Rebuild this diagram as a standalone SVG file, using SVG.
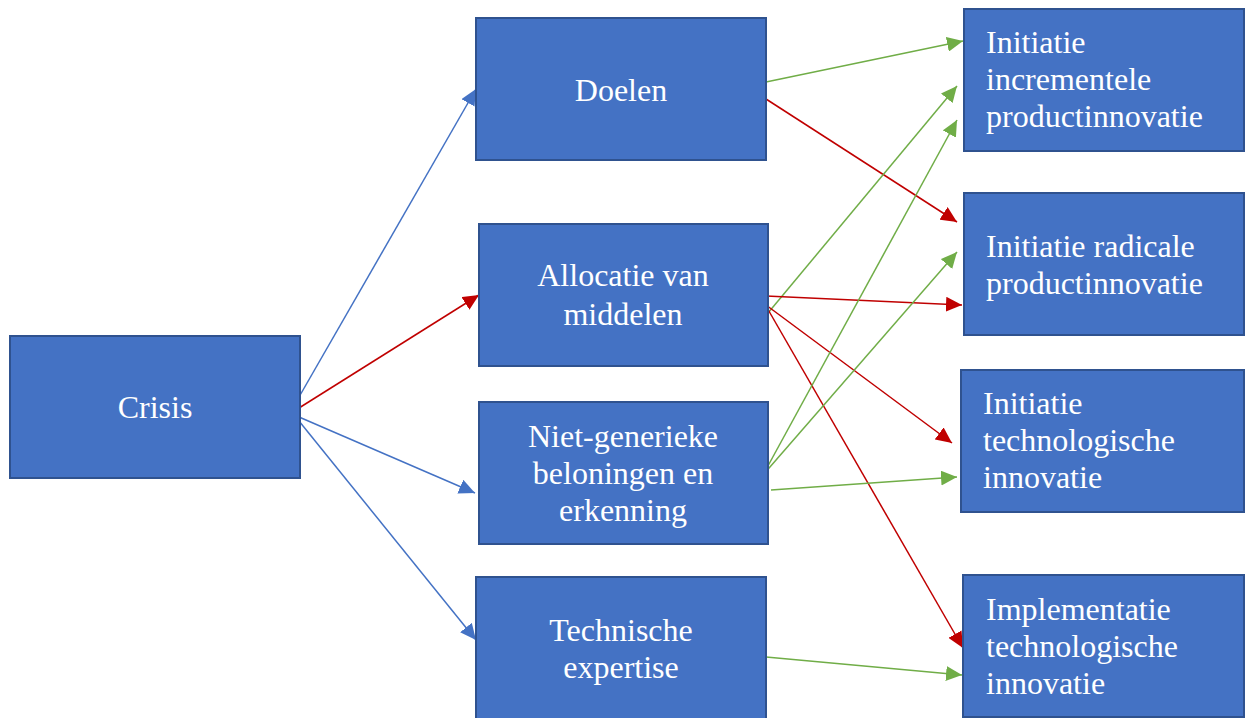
<svg xmlns="http://www.w3.org/2000/svg" width="1245" height="718" viewBox="0 0 1245 718">
  <defs>
    <style>
      .box { fill: #4472C4; stroke: #2F528F; stroke-width: 2; }
      .lbl { font-family: "Liberation Serif", "Times New Roman", serif; font-size: 32px; fill: #FFFFFF; }
      .mid { text-anchor: middle; }
      .c { fill: none; stroke-width: 1.5; }
      .blue { stroke: #4472C4; marker-end: url(#ah-blue); }
      .red { stroke: #C00000; marker-end: url(#ah-red); }
      .green { stroke: #70AD47; marker-end: url(#ah-green); }
    </style>
    <marker id="ah-blue" markerUnits="userSpaceOnUse" markerWidth="16" markerHeight="15" refX="16" refY="7.5" orient="auto">
      <path d="M0,0 L16,7.5 L0,15 z" fill="#4472C4"/>
    </marker>
    <marker id="ah-red" markerUnits="userSpaceOnUse" markerWidth="16" markerHeight="15" refX="16" refY="7.5" orient="auto">
      <path d="M0,0 L16,7.5 L0,15 z" fill="#C00000"/>
    </marker>
    <marker id="ah-green" markerUnits="userSpaceOnUse" markerWidth="16" markerHeight="15" refX="16" refY="7.5" orient="auto">
      <path d="M0,0 L16,7.5 L0,15 z" fill="#70AD47"/>
    </marker>
  </defs>
  <rect width="1245" height="718" fill="#FFFFFF"/>

  <!-- connectors -->
  <g id="connectors">
    <!-- from Crisis -->
    <line class="c blue" x1="299" y1="397" x2="476" y2="89"/>
    <line class="c red" x1="299" y1="408" x2="479" y2="295"/>
    <line class="c blue" x1="299" y1="417" x2="475" y2="493"/>
    <line class="c blue" x1="299" y1="421" x2="476" y2="640"/>
    <!-- from Doelen -->
    <line class="c green" x1="766" y1="82" x2="963" y2="41"/>
    <line class="c red" x1="766" y1="99" x2="957" y2="222"/>
    <!-- from Allocatie van middelen -->
    <line class="c green" x1="768" y1="313" x2="957" y2="86"/>
    <line class="c red" x1="766" y1="296" x2="962" y2="305"/>
    <line class="c red" x1="766" y1="305" x2="952" y2="443"/>
    <line class="c red" x1="766" y1="306" x2="963" y2="648"/>
    <!-- from Niet-generieke beloningen en erkenning -->
    <line class="c green" x1="763" y1="475" x2="957" y2="120"/>
    <line class="c green" x1="763" y1="475" x2="957" y2="252"/>
    <line class="c green" x1="771" y1="490" x2="957" y2="477"/>
    <!-- from Technische expertise -->
    <line class="c green" x1="766" y1="657" x2="962" y2="675"/>
  </g>

  <g id="crisis">
    <rect class="box" x="10" y="336" width="290" height="142"/>
    <text class="lbl mid" x="155" y="418">Crisis</text>
  </g>

  <g id="doelen">
    <rect class="box" x="476" y="18" width="290" height="142"/>
    <text class="lbl mid" x="621" y="101">Doelen</text>
  </g>

  <g id="allocatie">
    <rect class="box" x="479" y="224" width="289" height="142"/>
    <text class="lbl mid" x="623" y="286">Allocatie van</text>
    <text class="lbl mid" x="623" y="325">middelen</text>
  </g>

  <g id="beloningen">
    <rect class="box" x="479" y="402" width="289" height="142"/>
    <text class="lbl mid" x="623" y="447">Niet-generieke</text>
    <text class="lbl mid" x="623" y="484">beloningen en</text>
    <text class="lbl mid" x="623" y="521">erkenning</text>
  </g>

  <g id="expertise">
    <rect class="box" x="476" y="577" width="290" height="142"/>
    <text class="lbl mid" x="621" y="641">Technische</text>
    <text class="lbl mid" x="621" y="678">expertise</text>
  </g>

  <g id="incrementeel">
    <rect class="box" x="964" y="9" width="280" height="142"/>
    <text class="lbl" x="986" y="53">Initiatie</text>
    <text class="lbl" x="986" y="90">incrementele</text>
    <text class="lbl" x="986" y="127">productinnovatie</text>
  </g>

  <g id="radicaal">
    <rect class="box" x="964" y="193" width="280" height="142"/>
    <text class="lbl" x="986" y="257">Initiatie radicale</text>
    <text class="lbl" x="986" y="294">productinnovatie</text>
  </g>

  <g id="technologisch">
    <rect class="box" x="961" y="370" width="283" height="142"/>
    <text class="lbl" x="983" y="414">Initiatie</text>
    <text class="lbl" x="983" y="451">technologische</text>
    <text class="lbl" x="983" y="488">innovatie</text>
  </g>

  <g id="implementatie">
    <rect class="box" x="963" y="575" width="281" height="142"/>
    <text class="lbl" x="986" y="620">Implementatie</text>
    <text class="lbl" x="986" y="657">technologische</text>
    <text class="lbl" x="986" y="694">innovatie</text>
  </g>
</svg>
